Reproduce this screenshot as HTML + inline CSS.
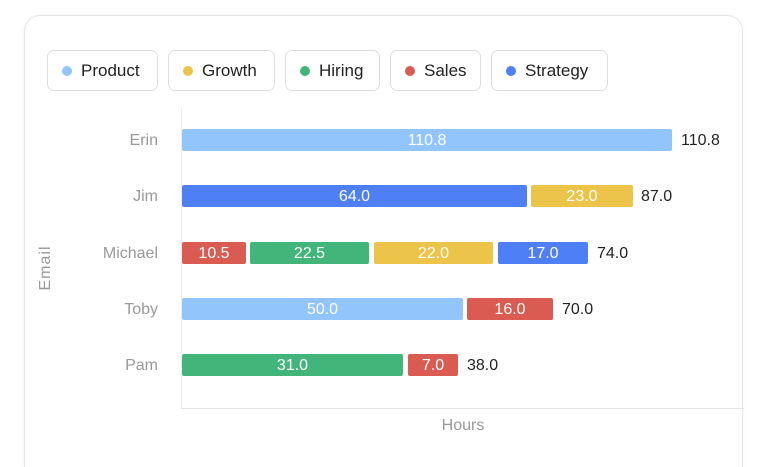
<!DOCTYPE html>
<html style="width:768px;height:467px;overflow:hidden"><head><style>
body{margin:0;width:768px;height:467px;background:#fff;font-family:"Liberation Sans",sans-serif;position:relative;overflow:hidden}
.card{position:absolute;left:24px;top:15px;width:719px;height:452px;border:1px solid #e6e6e6;border-bottom:none;border-radius:16px 16px 0 0;box-sizing:border-box;box-shadow:0 1px 4px rgba(0,0,0,.05)}
.pill{position:absolute;top:50px;height:41px;border:1px solid #dedede;border-radius:7px;box-sizing:border-box;font-size:17px;color:#222;line-height:40px}
.pill i{position:absolute;left:14px;top:15px;width:10px;height:10px;border-radius:50%}
.pill span{position:absolute;left:33px}
.b{position:absolute;height:22px;border-radius:2px;color:#fff;font-size:16px;line-height:23px;text-align:center}
.t{position:absolute;font-size:16px;color:#222;line-height:23px}
.c{position:absolute;width:140px;left:18px;text-align:right;font-size:16px;color:#999;line-height:23px}
</style></head><body>
<div class="card"></div>
<div class="pill" style="left:47px;width:111px"><i style="background:#93c5fd"></i><span>Product</span></div>
<div class="pill" style="left:168px;width:107px"><i style="background:#ecc44a"></i><span>Growth</span></div>
<div class="pill" style="left:285px;width:95px"><i style="background:#42b57b"></i><span>Hiring</span></div>
<div class="pill" style="left:390px;width:91px"><i style="background:#d95b52"></i><span>Sales</span></div>
<div class="pill" style="left:491px;width:117px"><i style="background:#4f7ff5"></i><span>Strategy</span></div>
<div style="position:absolute;left:181px;top:108px;width:1px;height:300px;background:#eee"></div>
<div style="position:absolute;left:181px;top:408px;width:563px;height:1px;background:#e6e6e6"></div>
<div style="position:absolute;left:46px;top:268px;transform:translate(-50%,-50%) rotate(-90deg);font-size:16px;color:#999;letter-spacing:1px">Email</div>
<div style="position:absolute;left:463px;top:417px;transform:translateX(-50%);font-size:16px;color:#999">Hours</div>

<div class="c" style="top:129px">Erin</div>
<div class="b" style="top:129px;left:182px;width:490px;background:#93c5fd">110.8</div>
<div class="t" style="top:129px;left:681px">110.8</div>

<div class="c" style="top:185px">Jim</div>
<div class="b" style="top:185px;left:182px;width:345px;background:#4f7ff5">64.0</div>
<div class="b" style="top:185px;left:531px;width:102px;background:#ecc44a">23.0</div>
<div class="t" style="top:185px;left:641px">87.0</div>

<div class="c" style="top:242px">Michael</div>
<div class="b" style="top:242px;left:182px;width:64px;background:#d95b52">10.5</div>
<div class="b" style="top:242px;left:250px;width:119px;background:#42b57b">22.5</div>
<div class="b" style="top:242px;left:374px;width:119px;background:#ecc44a">22.0</div>
<div class="b" style="top:242px;left:498px;width:90px;background:#4f7ff5">17.0</div>
<div class="t" style="top:242px;left:597px">74.0</div>

<div class="c" style="top:298px">Toby</div>
<div class="b" style="top:298px;left:182px;width:281px;background:#93c5fd">50.0</div>
<div class="b" style="top:298px;left:467px;width:86px;background:#d95b52">16.0</div>
<div class="t" style="top:298px;left:562px">70.0</div>

<div class="c" style="top:354px">Pam</div>
<div class="b" style="top:354px;left:182px;width:221px;background:#42b57b">31.0</div>
<div class="b" style="top:354px;left:408px;width:50px;background:#d95b52">7.0</div>
<div class="t" style="top:354px;left:467px">38.0</div>
</body></html>
